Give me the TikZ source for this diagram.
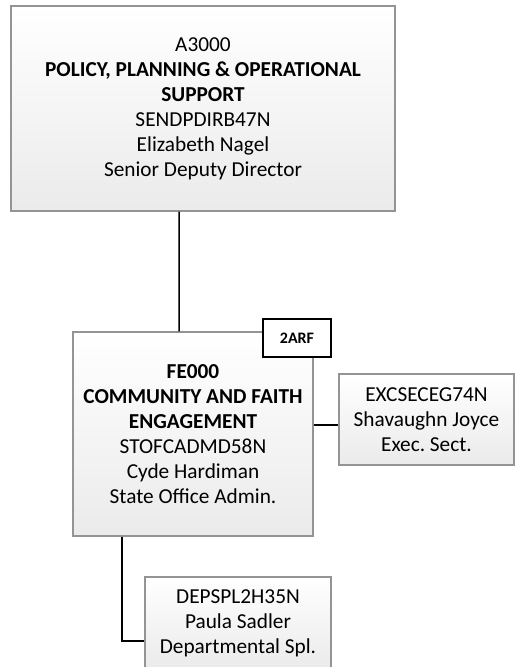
\documentclass[tikz,border=0pt]{standalone}
\usepackage{fontspec}
\setmainfont{Carlito}
\frenchspacing
\begin{document}
\begin{tikzpicture}[x=1bp,y=-1bp,
  box/.style={draw=black!42, line width=1.2bp, top color=white, bottom color=black!8,
    inner sep=0pt, align=center, font=\fontsize{21.3bp}{25bp}\selectfont},
  tag/.style={draw=black, line width=1.5bp, fill=white, inner sep=0pt,
    minimum width=68bp, minimum height=38bp, font=\fontsize{16bp}{18bp}\selectfont\bfseries},
  link/.style={draw=black, line width=1.5bp}]
\useasboundingbox (0,0) rectangle (516,667);
\node[box, minimum width=384bp, minimum height=205bp] (top) at (203,108.5)
  {A3000\\\textbf{POLICY, PLANNING \& OPERATIONAL}\\\textbf{SUPPORT}\\SENDPDIRB47N\\Elizabeth Nagel\\Senior Deputy Director};
\node[box, minimum width=240bp, minimum height=204bp] (fe) at (193,434)
  {\textbf{FE000}\\\textbf{COMMUNITY AND FAITH}\\\textbf{ENGAGEMENT}\\STOFCADMD58N\\Cyde Hardiman\\State Office Admin.};
\node[tag] (tag) at (297,338) {2ARF};
\node[box, minimum width=175bp, minimum height=91bp] (exc) at (426.5,419.5)
  {EXCSECEG74N\\Shavaughn Joyce\\Exec. Sect.};
\node[box, minimum width=186bp, minimum height=92bp] (dep) at (238,623)
  {DEPSPL2H35N\\Paula Sadler\\Departmental Spl.};
\draw[link] ([xshift=-24bp]top.south) -- ([xshift=-14bp]fe.north);
\draw[link] ([yshift=9bp]fe.east) -- ([yshift=9bp]fe.east -| exc.west);
\draw[link] ([xshift=-71bp]fe.south) |- ([yshift=-18bp]dep.west);
\end{tikzpicture}
\end{document}
